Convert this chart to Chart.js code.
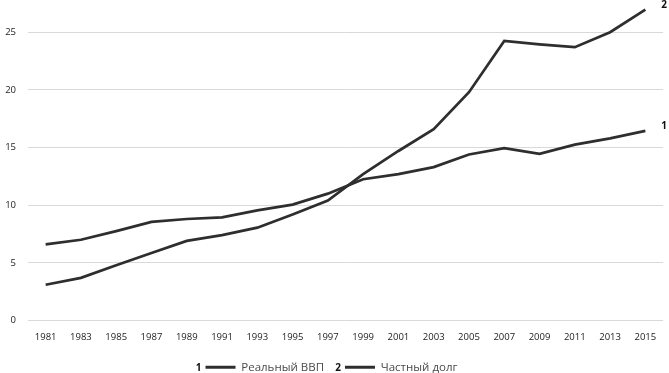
<!DOCTYPE html>
<html>
<head>
<meta charset="utf-8">
<script src="https://cdn.jsdelivr.net/npm/chart.js@4/dist/chart.umd.min.js"></script>
<style>
html,body{margin:0;padding:0;background:#fff;}
#wrap{width:669px;height:373px;}
</style>
</head>
<body>
<div id="wrap"><canvas id="c" width="669" height="373"></canvas></div>
<script>
const years = ['1981','1983','1985','1987','1989','1991','1993','1995','1997','1999','2001','2003','2005','2007','2009','2011','2013','2015'];
const realGDP = [6.6, 7.0, 7.75, 8.55, 8.8, 8.95, 9.55, 10.05, 11.0, 12.25, 12.7, 13.3, 14.4, 14.95, 14.45, 15.25, 15.8, 16.45];
const privateDebt = [3.1, 3.7, 4.8, 5.85, 6.9, 7.4, 8.05, 9.2, 10.4, 12.7, 14.7, 16.6, 19.8, 24.25, 23.95, 23.7, 25.0, 26.95];
const seriesNames = ['Реальный ВВП', 'Частный долг'];
const seriesTags = ['1', '2'];
const yTicks = [0, 5, 10, 15, 20, 25];

const lineColor = '#2e2e2e';
const font = "'Open Sans', 'DejaVu Sans', sans-serif";

const tagsPlugin = {
  id: 'tags',
  afterDraw(chart) {
    const ctx = chart.ctx;
    ctx.save();
    ctx.fillStyle = '#111';
    ctx.font = "bold 10px " + font;
    ctx.textBaseline = 'middle';
    ctx.textAlign = 'left';
    chart.data.datasets.forEach((ds, i) => {
      const meta = chart.getDatasetMeta(i);
      const pt = meta.data[meta.data.length - 1];
      ctx.fillText(seriesTags[i], pt.x + 16, pt.y - 5);
    });
    const boxes = chart.legend.legendHitBoxes || [];
    boxes.forEach((b, i) => {
      ctx.textAlign = 'right';
      ctx.fillText(seriesTags[i], b.left - 4, b.top + b.height / 2 + 1);
    });
    ctx.restore();
  }
};

new Chart(document.getElementById('c'), {
  type: 'line',
  data: {
    labels: years,
    datasets: [
      { label: seriesNames[0], data: realGDP, borderColor: lineColor, backgroundColor: lineColor, borderWidth: 2.7, pointRadius: 0, tension: 0 },
      { label: seriesNames[1], data: privateDebt, borderColor: lineColor, backgroundColor: lineColor, borderWidth: 2.7, pointRadius: 0, tension: 0 }
    ]
  },
  options: {
    responsive: false,
    animation: false,
    layout: { padding: { left: 0, right: 6, top: 0, bottom: -10 } },
    plugins: {
      legend: {
        position: 'bottom',
        labels: {
          color: '#4a4a4a',
          font: { family: font, size: 11.5 },
          boxWidth: 30,
          boxHeight: 3,
          padding: 3,
          generateLabels(chart) {
            return chart.data.datasets.map((ds, i) => ({
              text: ds.label + (i < chart.data.datasets.length - 1 ? '\u00a0\u00a0\u00a0\u00a0\u00a0\u00a0' : ''),
              fillStyle: ds.borderColor,
              strokeStyle: ds.borderColor,
              lineWidth: 0,
              fontColor: '#4a4a4a',
              hidden: false,
              datasetIndex: i
            }));
          }
        }
      },
      tooltip: { enabled: false }
    },
    scales: {
      x: {
        offset: true,
        afterFit(axis) { axis.height = 38; },
        grid: { display: false, drawTicks: false },
        border: { display: false },
        ticks: { color: '#222', font: { family: font, size: 9.5 }, autoSkip: false, maxRotation: 0, padding: 11 }
      },
      y: {
        min: 0,
        max: 27.3,
        afterBuildTicks(axis) { axis.ticks = yTicks.map(v => ({ value: v })); },
        afterFit(axis) { axis.width = 28; },
        grid: { color: '#d9d9d9', lineWidth: 1, drawTicks: true, tickLength: 12, tickColor: 'rgba(0,0,0,0)' },
        border: { display: false },
        ticks: { color: '#222', font: { family: font, size: 9.5 }, padding: 0 }
      }
    }
  },
  plugins: [tagsPlugin]
});
</script>
</body>
</html>
